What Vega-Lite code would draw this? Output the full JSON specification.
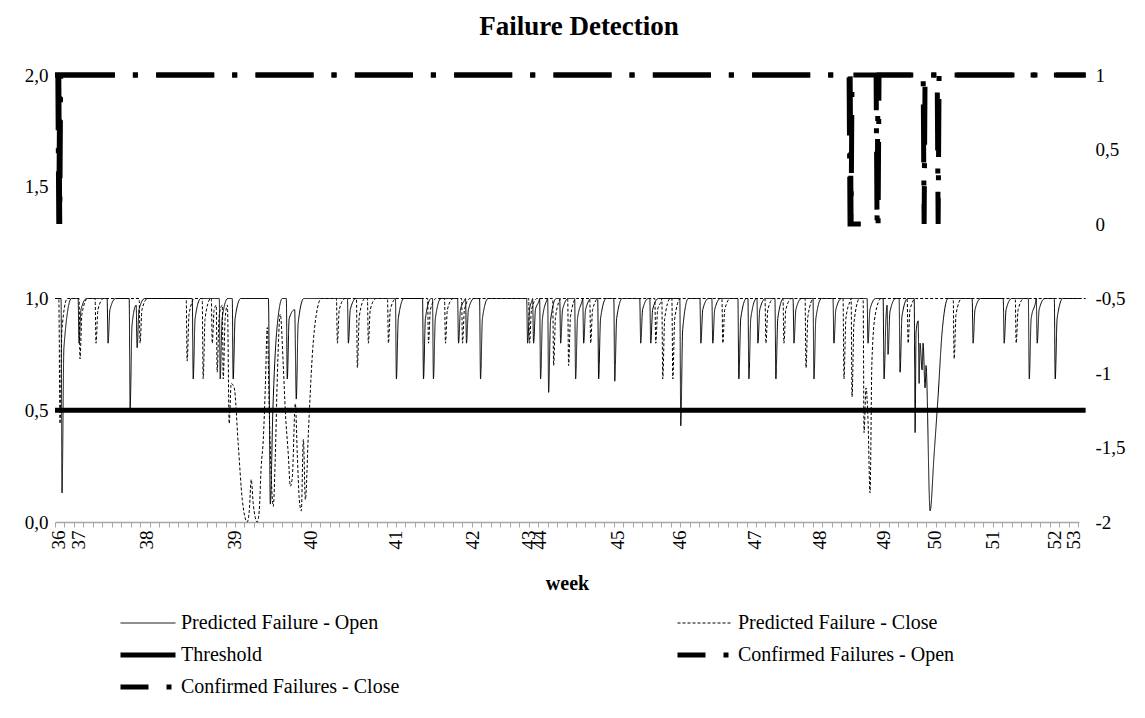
{
  "$schema": "https://vega.github.io/schema/vega-lite/v6.json",
  "autosize": {"type": "none"},
  "padding": {"left": 55, "top": 75, "right": 66, "bottom": 196},
  "width": 1024,
  "height": 447,
  "background": "white",
  "title": {"text": "Failure Detection", "font": "Liberation Serif", "fontSize": 27, "fontWeight": "bold", "color": "black", "anchor": "middle", "offset": 24, "dx": 12},
  "config": {"view": {"stroke": null}, "font": "Liberation Serif"},
  "datasets": {
    "PO": [
      {"u":0,"v":1},{"u":6.4,"v":1},{"u":7.4,"v":0.13},{"u":9.4,"v":0.78},{"u":17.4,"v":1},
      {"u":24.4,"v":1},{"u":25.4,"v":0.8},{"u":27.4,"v":0.95},{"u":33.4,"v":1},
      {"u":55,"v":1},{"u":56,"v":0.8},{"u":58,"v":0.95},{"u":64,"v":1},
      {"u":78.3,"v":1},{"u":79.3,"v":0.51},{"u":81.3,"v":0.88},{"u":85.7,"v":0.97},{"u":86.7,"v":0.78},{"u":88.7,"v":0.95},{"u":94.7,"v":1},
      {"u":144.9,"v":1},{"u":145.9,"v":0.64},{"u":147.9,"v":0.91},{"u":153.9,"v":1},
      {"u":173.4,"v":1},{"u":174.4,"v":0.64},{"u":176.4,"v":0.91},{"u":182.4,"v":1},
      {"u":187.1,"v":1},{"u":188.1,"v":0.64},{"u":190.1,"v":0.91},{"u":196.1,"v":1},
      {"u":225.3,"v":1},{"u":227.3,"v":0.08},{"u":230,"v":0.5},{"u":234,"v":0.85},{"u":240,"v":1},{"u":244.2,"v":1},{"u":245.2,"v":0.64},{"u":247.2,"v":0.91},{"u":253,"v":0.95},{"u":254.7,"v":0.55},{"u":256.7,"v":0.89},{"u":262.7,"v":1},
      {"u":308.7,"v":1},{"u":309.7,"v":0.8},{"u":311.7,"v":0.95},{"u":317.7,"v":1},
      {"u":359.4,"v":1},{"u":360.4,"v":0.64},{"u":362.4,"v":0.91},{"u":368.4,"v":1},
      {"u":388,"v":1},{"u":389,"v":0.64},{"u":391,"v":0.91},{"u":397,"v":1},
      {"u":398.5,"v":1},{"u":399.5,"v":0.64},{"u":401.5,"v":0.91},{"u":407.5,"v":1},
      {"u":425,"v":1},{"u":426,"v":0.8},{"u":428,"v":0.95},{"u":432,"v":0.99},
      {"u":433.4,"v":1},{"u":434.4,"v":0.8},{"u":436.4,"v":0.95},{"u":442.4,"v":1},
      {"u":448.2,"v":1},{"u":449.2,"v":0.64},{"u":451.2,"v":0.91},{"u":457.2,"v":1},
      {"u":497.9,"v":1},{"u":498.9,"v":0.8},{"u":500.9,"v":0.95},{"u":503.5,"v":0.99},
      {"u":504.2,"v":1},{"u":505.2,"v":0.8},{"u":507.2,"v":0.95},{"u":511,"v":0.99},
      {"u":511.6,"v":1},{"u":512.6,"v":0.64},{"u":514.6,"v":0.91},{"u":519,"v":0.99},
      {"u":520.1,"v":1},{"u":521.1,"v":0.58},{"u":523.1,"v":0.9},{"u":529.1,"v":1},
      {"u":532.8,"v":1},{"u":533.8,"v":0.8},{"u":535.8,"v":0.95},{"u":541.8,"v":1},
      {"u":548.6,"v":1},{"u":549.6,"v":0.64},{"u":551.6,"v":0.91},{"u":556.5,"v":0.99},
      {"u":557.1,"v":1},{"u":558.1,"v":0.8},{"u":560.1,"v":0.95},{"u":566.1,"v":1},
      {"u":572.9,"v":1},{"u":573.9,"v":0.64},{"u":575.9,"v":0.91},{"u":581.9,"v":1},
      {"u":589.9,"v":1},{"u":590.9,"v":0.63},{"u":592.9,"v":0.91},{"u":598.9,"v":1},
      {"u":617.3,"v":1},{"u":618.3,"v":0.8},{"u":620.3,"v":0.95},{"u":626.3,"v":1},
      {"u":627.9,"v":1},{"u":628.9,"v":0.8},{"u":630.9,"v":0.95},{"u":636.9,"v":1},
      {"u":659.6,"v":1},{"u":660.6,"v":0.43},{"u":662.6,"v":0.86},{"u":668.6,"v":1},
      {"u":680.8,"v":1},{"u":681.8,"v":0.8},{"u":683.8,"v":0.95},{"u":689.8,"v":1},
      {"u":693.4,"v":1},{"u":694.4,"v":0.8},{"u":696.4,"v":0.95},{"u":702.4,"v":1},
      {"u":720.9,"v":1},{"u":721.9,"v":0.64},{"u":723.9,"v":0.91},{"u":729.9,"v":1},
      {"u":731.5,"v":1},{"u":732.5,"v":0.64},{"u":734.5,"v":0.91},{"u":740.5,"v":1},
      {"u":741,"v":1},{"u":742,"v":0.8},{"u":744,"v":0.95},{"u":750,"v":1},
      {"u":760,"v":1},{"u":761,"v":0.64},{"u":763,"v":0.91},{"u":769,"v":1},
      {"u":779.1,"v":1},{"u":780.1,"v":0.8},{"u":782.1,"v":0.95},{"u":788.1,"v":1},
      {"u":800.2,"v":1},{"u":801.2,"v":0.64},{"u":803.2,"v":0.91},{"u":809.2,"v":1},
      {"u":821.3,"v":1},{"u":822.3,"v":0.8},{"u":824.3,"v":0.95},{"u":830.3,"v":1},
      {"u":857.3,"v":1},{"u":858.3,"v":0.8},{"u":860.3,"v":0.95},{"u":866.3,"v":1},
      {"u":874.2,"v":1},{"u":875.2,"v":0.64},{"u":877.2,"v":0.91},{"u":878.4,"v":0.97},{"u":879.4,"v":0.75},{"u":881.4,"v":0.94},{"u":887.4,"v":1},
      {"u":891.1,"v":1},{"u":892.1,"v":0.67},{"u":894.1,"v":0.92},{"u":900.1,"v":1},
      {"u":907,"v":1},{"u":908,"v":0.4},{"u":909,"v":0.85},{"u":911.2,"v":0.9},{"u":912.2,"v":0.62},{"u":913.2,"v":0.8},{"u":915.4,"v":0.68},{"u":916.4,"v":0.8},{"u":918.5,"v":0.6},{"u":919.5,"v":0.7},{"u":923.8,"v":0.05},{"u":928,"v":0.3},{"u":932.2,"v":0.56},{"u":936.5,"v":0.85},{"u":942.8,"v":1},
      {"u":968.2,"v":1},{"u":969.2,"v":0.8},{"u":971.2,"v":0.95},{"u":977.2,"v":1},
      {"u":1001,"v":1},{"u":1002,"v":0.8},{"u":1004,"v":0.95},{"u":1010,"v":1},
      {"u":1027.5,"v":1},{"u":1028.5,"v":0.64},{"u":1030.5,"v":0.91},{"u":1035,"v":0.98},{"u":1035.9,"v":1},{"u":1036.9,"v":0.8},{"u":1038.9,"v":0.95},{"u":1044.9,"v":1},
      {"u":1054.9,"v":1},{"u":1055.9,"v":0.64},{"u":1057.9,"v":0.91},{"u":1063.9,"v":1},
      {"u":1083,"v":1}
    ],
    "PC": [
      {"u":0,"v":1},{"u":4,"v":1},{"u":5.3,"v":0.44},{"u":7.3,"v":0.86},{"u":13,"v":1},
      {"u":25.4,"v":1},{"u":26.4,"v":0.73},{"u":28.4,"v":0.93},{"u":34.4,"v":1},
      {"u":42.3,"v":1},{"u":43.3,"v":0.8},{"u":45.3,"v":0.95},{"u":51.3,"v":1},
      {"u":88.8,"v":1},{"u":89.8,"v":0.8},{"u":91.8,"v":0.95},{"u":97.8,"v":1},
      {"u":138.5,"v":1},{"u":139.5,"v":0.72},{"u":141.5,"v":0.93},{"u":147.5,"v":1},
      {"u":155.4,"v":1},{"u":156.4,"v":0.64},{"u":158.4,"v":0.91},{"u":164.4,"v":1},
      {"u":165,"v":1},{"u":166,"v":0.8},{"u":168,"v":0.95},{"u":170.2,"v":0.97},{"u":171.2,"v":0.67},{"u":173.2,"v":0.92},{"u":176.6,"v":0.97},{"u":177.6,"v":0.64},{"u":179.6,"v":0.91},{"u":182,"v":0.97},
      {"u":183.9,"v":0.44},{"u":186,"v":0.62},{"u":189.2,"v":0.6},{"u":193.4,"v":0.35},{"u":197.7,"v":0.1},{"u":202.9,"v":0},{"u":205.1,"v":0.05},{"u":207.2,"v":0.19},{"u":209.3,"v":0.08},{"u":213.5,"v":0},{"u":215.6,"v":0.05},{"u":217.7,"v":0.25},{"u":219.9,"v":0.37},{"u":222,"v":0.6},{"u":224.1,"v":0.87},{"u":226.2,"v":0.5},{"u":228.3,"v":0.2},{"u":230.4,"v":0.07},{"u":232.6,"v":0.3},{"u":234.7,"v":0.65},{"u":237.8,"v":0.93},{"u":241,"v":0.7},{"u":243.1,"v":0.5},{"u":246.3,"v":0.3},{"u":248.4,"v":0.16},{"u":250.5,"v":0.2},{"u":253.7,"v":0.53},{"u":255.8,"v":0.3},{"u":257.9,"v":0.1},{"u":260,"v":0.05},{"u":262.2,"v":0.37},{"u":264.3,"v":0.1},{"u":267.5,"v":0.4},{"u":271.7,"v":0.75},{"u":275.9,"v":0.93},{"u":281.2,"v":1},
      {"u":297.1,"v":1},{"u":298.1,"v":0.8},{"u":300.1,"v":0.95},{"u":306.1,"v":1},
      {"u":318.2,"v":1},{"u":319.2,"v":0.69},{"u":321.2,"v":0.92},{"u":327.2,"v":1},
      {"u":329.8,"v":1},{"u":330.8,"v":0.8},{"u":332.8,"v":0.95},{"u":338.8,"v":1},
      {"u":351,"v":1},{"u":352,"v":0.8},{"u":354,"v":0.95},{"u":360,"v":1},
      {"u":393.3,"v":1},{"u":394.3,"v":0.8},{"u":396.3,"v":0.95},{"u":402.3,"v":1},
      {"u":411.2,"v":1},{"u":412.2,"v":0.8},{"u":414.2,"v":0.95},{"u":420.2,"v":1},
      {"u":429.2,"v":1},{"u":430.2,"v":0.8},{"u":432.2,"v":0.95},{"u":438.2,"v":1},
      {"u":500,"v":1},{"u":501,"v":0.8},{"u":503,"v":0.95},{"u":509,"v":1},
      {"u":525.4,"v":1},{"u":526.4,"v":0.7},{"u":528.4,"v":0.92},{"u":534.4,"v":1},
      {"u":541.2,"v":1},{"u":542.2,"v":0.7},{"u":544.2,"v":0.92},{"u":550.2,"v":1},
      {"u":564.5,"v":1},{"u":565.5,"v":0.8},{"u":567.5,"v":0.95},{"u":573.5,"v":1},
      {"u":633.2,"v":1},{"u":634.2,"v":0.8},{"u":636.2,"v":0.95},{"u":640,"v":0.99},{"u":640.6,"v":1},{"u":641.6,"v":0.64},{"u":643.6,"v":0.91},{"u":649.6,"v":1},
      {"u":651.2,"v":1},{"u":652.2,"v":0.64},{"u":654.2,"v":0.91},{"u":660.2,"v":1},
      {"u":704,"v":1},{"u":705,"v":0.8},{"u":707,"v":0.95},{"u":713,"v":1},
      {"u":749.5,"v":1},{"u":750.5,"v":0.8},{"u":752.5,"v":0.95},{"u":758.5,"v":1},
      {"u":768.5,"v":1},{"u":769.5,"v":0.8},{"u":771.5,"v":0.95},{"u":777.5,"v":1},
      {"u":791.8,"v":1},{"u":792.8,"v":0.69},{"u":794.8,"v":0.92},{"u":800.8,"v":1},
      {"u":831.9,"v":1},{"u":832.9,"v":0.64},{"u":834.9,"v":0.91},{"u":839.5,"v":0.99},{"u":840.4,"v":1},{"u":841.4,"v":0.56},{"u":843.4,"v":0.89},{"u":849.4,"v":1},
      {"u":853.1,"v":1},{"u":854.1,"v":0.4},{"u":856.2,"v":0.6},{"u":858.3,"v":0.45},{"u":860.4,"v":0.13},{"u":862.4,"v":0.72},{"u":866,"v":0.93},{"u":872,"v":1},
      {"u":899.6,"v":1},{"u":900.6,"v":0.8},{"u":902.6,"v":0.95},{"u":908.6,"v":1},
      {"u":948.2,"v":1},{"u":949.2,"v":0.73},{"u":951.2,"v":0.93},{"u":957.2,"v":1},
      {"u":1013.7,"v":1},{"u":1014.7,"v":0.8},{"u":1016.7,"v":0.95},{"u":1022.7,"v":1},
      {"u":1088,"v":1}
    ],
    "TH": [{"u":0,"v":0.5},{"u":1088,"v":0.5}],
    "CO": [{"u":0,"v":1},{"u":3,"v":1},{"u":4,"v":0},{"u":5,"v":1},{"u":838.3,"v":1},{"u":839.3,"v":0},{"u":868.9,"v":0},{"u":869.9,"v":1},{"u":916.5,"v":1},{"u":917.5,"v":0},{"u":918.5,"v":1},{"u":1088,"v":1}],
    "CC": [{"u":0,"v":1},{"u":4,"v":1},{"u":5,"v":0},{"u":6,"v":1},{"u":839.4,"v":1},{"u":840.4,"v":0},{"u":841.4,"v":1},{"u":866.8,"v":1},{"u":867.8,"v":0},{"u":868.8,"v":1},{"u":931.3,"v":1},{"u":932.3,"v":0},{"u":933.3,"v":1},{"u":1088,"v":1}]
  },
  "encoding": {
    "x": {
      "field": "u", "type": "quantitative",
      "scale": {"domain": [0, 1081], "nice": false, "zero": false},
      "axis": {
        "title": "week", "titleFont": "Liberation Serif", "titleFontSize": 20, "titleFontWeight": "bold", "titleColor": "black", "titlePadding": 24,
        "values": [0,4,10,20,25,30,40,50,60,70,80,90,97,100,110,120,130,140,150,160,170,180,190,200,210,220,230,240,250,260,270,280,290,300,310,320,330,340,350,359,360,370,380,390,400,410,420,430,440,441,450,460,470,480,490,500,510,511,520,530,540,550,560,570,580,590,594,600,610,620,630,640,650,659,660,670,680,690,700,710,720,730,738,740,750,760,770,780,790,800,807,810,820,830,840,850,860,870,875,880,890,900,910,920,928,930,940,950,960,970,980,990,1000,1010,1020,1030,1040,1050,1055,1060,1070,1075,1080],
        "labelExpr": "indexof([4,25,97,190,270,359,441,500,511,594,659,738,807,875,928,990,1055,1075], datum.value) >= 0 ? '' + (36 + indexof([4,25,97,190,270,359,441,500,511,594,659,738,807,875,928,990,1055,1075], datum.value)) : ''",
        "labelAngle": -90, "labelFont": "Liberation Serif", "labelFontSize": 19, "labelColor": "black", "labelPadding": 3,
        "labelOverlap": false, "labelFlush": false, "labelBound": false,
        "tickOpacity": {"condition": {"test": "datum.value % 10 === 0", "value": 1}, "value": 0},
        "tickColor": "#a6a6a6", "tickSize": 5, "tickWidth": 1,
        "domainColor": "#a6a6a6", "domainWidth": 1.5, "grid": false
      }
    }
  },
  "layer": [
    {
      "encoding": {
        "y": {"field": "v", "type": "quantitative",
          "scale": {"domain": [0, 2], "nice": false},
          "axis": {"orient": "left", "title": null, "values": [0, 0.5, 1, 1.5, 2], "labelExpr": "replace(format(datum.value, '.1f'), '.', ',')", "domain": false, "ticks": false, "grid": false, "labelFont": "Liberation Serif", "labelFontSize": 19, "labelColor": "black", "labelPadding": 7}}
      },
      "layer": [
        {
          "data": {"name": "PO"},
          "mark": {"type": "line", "color": "black", "interpolate": "monotone", "strokeCap": "butt"},
          "encoding": {
            "strokeDash": {"datum": "Predicted Failure - Open", "type": "nominal", "scale": {"domain": ["Predicted Failure - Open", "Predicted Failure - Close", "Threshold", "Confirmed Failures - Open", "Confirmed Failures - Close"], "range": [[1, 0], [3, 2], [1, 0], [58, 18, 5, 18.33], [58, 18, 5, 18.33]]},
              "legend": {"orient": "none", "direction": "horizontal", "legendX": 63, "legendY": 534, "columns": 2, "columnPadding": 275, "rowPadding": 4, "clipHeight": 28, "symbolType": "stroke", "symbolSize": 3025, "symbolStrokeColor": "black", "symbolDashOffset": 30, "labelFont": "Liberation Serif", "labelFontSize": 20, "labelColor": "black", "labelOffset": 3, "labelLimit": 0, "title": null}},
            "strokeWidth": {"datum": "Predicted Failure - Open", "type": "nominal", "scale": {"type": "ordinal", "domain": ["Predicted Failure - Open", "Predicted Failure - Close", "Threshold", "Confirmed Failures - Open", "Confirmed Failures - Close"], "range": [1, 1, 5, 5, 5]}}
          }
        },
        {
          "data": {"name": "PC"},
          "mark": {"type": "line", "color": "black", "interpolate": "monotone", "strokeCap": "butt"},
          "encoding": {
            "strokeDash": {"datum": "Predicted Failure - Close", "type": "nominal"},
            "strokeWidth": {"datum": "Predicted Failure - Close", "type": "nominal", "scale": {"type": "ordinal", "domain": ["Predicted Failure - Open", "Predicted Failure - Close", "Threshold", "Confirmed Failures - Open", "Confirmed Failures - Close"], "range": [1, 1, 5, 5, 5]}}
          }
        },
        {
          "data": {"name": "TH"},
          "mark": {"type": "line", "color": "black", "strokeCap": "butt"},
          "encoding": {
            "strokeDash": {"datum": "Threshold", "type": "nominal"},
            "strokeWidth": {"datum": "Threshold", "type": "nominal", "scale": {"type": "ordinal", "domain": ["Predicted Failure - Open", "Predicted Failure - Close", "Threshold", "Confirmed Failures - Open", "Confirmed Failures - Close"], "range": [1, 1, 5, 5, 5]}}
          }
        }
      ]
    },
    {
      "encoding": {
        "y": {"field": "v", "type": "quantitative",
          "scale": {"domain": [-2, 1], "nice": false, "zero": false},
          "axis": {"orient": "right", "title": null, "values": [-2, -1.5, -1, -0.5, 0, 0.5, 1], "labelExpr": "replace('' + datum.value, '.', ',')", "domain": false, "ticks": false, "grid": false, "labelFont": "Liberation Serif", "labelFontSize": 19, "labelColor": "black", "labelPadding": 16}}
      },
      "layer": [
        {
          "data": {"name": "CO"},
          "mark": {"type": "line", "color": "black", "strokeCap": "butt"},
          "encoding": {
            "strokeDash": {"datum": "Confirmed Failures - Open", "type": "nominal"},
            "strokeWidth": {"datum": "Confirmed Failures - Open", "type": "nominal", "scale": {"type": "ordinal", "domain": ["Predicted Failure - Open", "Predicted Failure - Close", "Threshold", "Confirmed Failures - Open", "Confirmed Failures - Close"], "range": [1, 1, 5, 5, 5]}}
          }
        },
        {
          "data": {"name": "CC"},
          "mark": {"type": "line", "color": "black", "strokeCap": "butt"},
          "encoding": {
            "strokeDash": {"datum": "Confirmed Failures - Close", "type": "nominal"},
            "strokeWidth": {"datum": "Confirmed Failures - Close", "type": "nominal", "scale": {"type": "ordinal", "domain": ["Predicted Failure - Open", "Predicted Failure - Close", "Threshold", "Confirmed Failures - Open", "Confirmed Failures - Close"], "range": [1, 1, 5, 5, 5]}}
          }
        }
      ]
    }
  ],
  "resolve": {"scale": {"y": "independent"}}
}
